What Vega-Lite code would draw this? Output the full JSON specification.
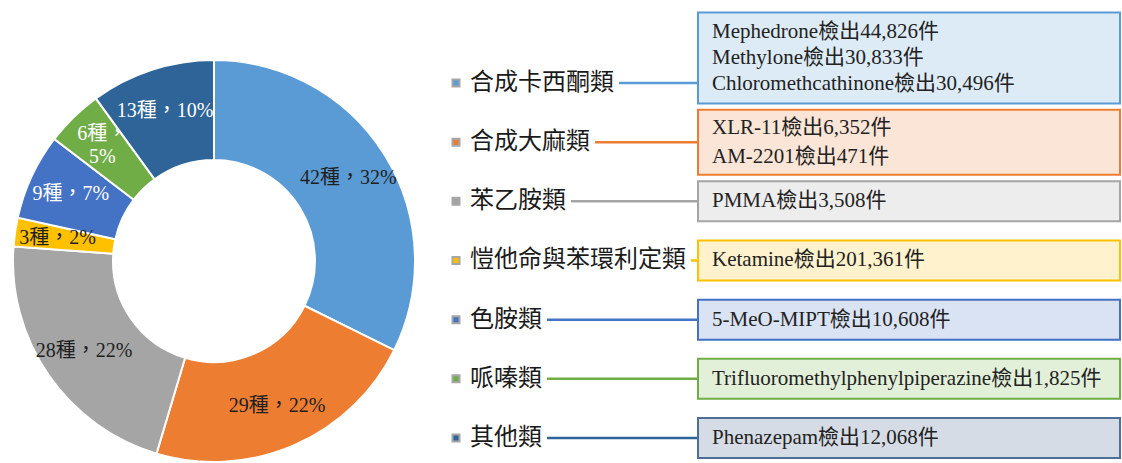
{
  "$schema": "https://vega.github.io/schema/vega-lite/v6.json",
  "padding": 0,
  "background": "white",
  "spacing": 0,
  "config": {"view": {"stroke": null}},
  "data": {"values": [
    {"ord": 1, "cat": "合成卡西酮類", "species": 42, "label": "42種，32%", "detail": "Mephedrone檢出44,826件\nMethylone檢出30,833件\nChloromethcathinone檢出30,496件", "lines": 3},
    {"ord": 2, "cat": "合成大麻類", "species": 29, "label": "29種，22%", "detail": "XLR-11檢出6,352件\nAM-2201檢出471件", "lines": 2},
    {"ord": 3, "cat": "苯乙胺類", "species": 28, "label": "28種，22%", "detail": "PMMA檢出3,508件", "lines": 1},
    {"ord": 4, "cat": "愷他命與苯環利定類", "species": 3, "label": "3種，2%", "detail": "Ketamine檢出201,361件", "lines": 1},
    {"ord": 5, "cat": "色胺類", "species": 9, "label": "9種，7%", "detail": "5-MeO-MIPT檢出10,608件", "lines": 1},
    {"ord": 6, "cat": "哌嗪類", "species": 6, "label": "6種，\n5%", "detail": "Trifluoromethylphenylpiperazine檢出1,825件", "lines": 1},
    {"ord": 7, "cat": "其他類", "species": 13, "label": "13種，10%", "detail": "Phenazepam檢出12,068件", "lines": 1}
  ]},
  "hconcat": [
    {
      "width": 428,
      "height": 463,
      "layer": [
        {
          "mark": {"type": "arc", "innerRadius": 101, "outerRadius": 201, "stroke": "white", "strokeWidth": 2, "yOffset": 29.5},
          "encoding": {
            "theta": {"field": "species", "type": "quantitative", "stack": true},
            "order": {"field": "ord", "type": "quantitative"},
            "color": {"field": "cat", "type": "nominal", "legend": null,
              "scale": {"domain": ["合成卡西酮類", "合成大麻類", "苯乙胺類", "愷他命與苯環利定類", "色胺類", "哌嗪類", "其他類"],
                        "range": ["#5B9BD5", "#ED7D31", "#A5A5A5", "#FFC000", "#4472C4", "#70AD47", "#2E6497"]}}
          }
        },
        {
          "transform": [
            {"stack": "species", "groupby": [], "sort": [{"field": "ord", "order": "ascending"}], "as": ["s0", "s1"]},
            {"calculate": "(datum.s0 + datum.s1) / 2", "as": "mid"}
          ],
          "encoding": {
            "theta": {"field": "mid", "type": "quantitative", "stack": null},
            "text": {"field": "label", "type": "nominal"},
            "color": {"condition": {"test": "datum.ord >= 5", "value": "#ffffff"}, "value": "#1f1f1f"}
          },
          "layer": [
            {
              "transform": [{"filter": "datum.ord != 6"}],
              "mark": {"type": "text", "radius": 158, "yOffset": 29.5, "fontSize": 20, "font": "Liberation Serif, Noto Sans CJK TC"}
            },
            {
              "transform": [{"filter": "datum.ord == 6"}],
              "mark": {"type": "text", "radius": 160, "yOffset": 17, "fontSize": 20, "font": "Liberation Serif, Noto Sans CJK TC", "lineBreak": "\n", "lineHeight": 23}
            }
          ]
        }
      ]
    },
    {
      "width": 694,
      "height": 463,
      "transform": [{"calculate": "42 + length(datum.cat) * 24 + 5", "as": "connStart"}],
      "encoding": {
        "y": {"field": "cat", "type": "nominal", "axis": null,
          "scale": {"type": "band", "domain": ["合成卡西酮類", "合成大麻類", "苯乙胺類", "愷他命與苯環利定類", "色胺類", "哌嗪類", "其他類"],
                    "paddingInner": 0.155, "paddingOuter": 0.49, "align": 1}}
      },
      "layer": [
        {
          "mark": {"type": "rule", "strokeWidth": 2.5},
          "encoding": {
            "x": {"field": "connStart", "type": "quantitative", "axis": null, "scale": {"domain": [0, 694], "nice": false, "zero": false}},
            "x2": {"datum": 270},
            "color": {"field": "cat", "type": "nominal", "legend": null,
              "scale": {"domain": ["合成卡西酮類", "合成大麻類", "苯乙胺類", "愷他命與苯環利定類", "色胺類", "哌嗪類", "其他類"],
                        "range": ["#5B9BD5", "#ED7D31", "#A5A5A5", "#FFC000", "#4472C4", "#70AD47", "#2E6497"]}}
          }
        },
        {
          "transform": [{"filter": "datum.lines == 3"}],
          "mark": {"type": "bar", "height": 91, "yOffset": -25, "strokeWidth": 2},
          "encoding": {
            "x": {"datum": 270, "type": "quantitative"},
            "x2": {"datum": 692},
            "fill": {"field": "cat", "type": "nominal", "legend": null,
              "scale": {"domain": ["合成卡西酮類", "合成大麻類", "苯乙胺類", "愷他命與苯環利定類", "色胺類", "哌嗪類", "其他類"],
                        "range": ["#DDEBF7", "#FBE5D6", "#EDEDED", "#FFF2CC", "#DAE3F3", "#E2F0D9", "#D6DCE5"]}},
            "stroke": {"field": "cat", "type": "nominal", "legend": null,
              "scale": {"domain": ["合成卡西酮類", "合成大麻類", "苯乙胺類", "愷他命與苯環利定類", "色胺類", "哌嗪類", "其他類"],
                        "range": ["#5B9BD5", "#ED7D31", "#A5A5A5", "#FFC000", "#4472C4", "#70AD47", "#4F6E95"]}}
          }
        },
        {
          "transform": [{"filter": "datum.lines == 2"}],
          "mark": {"type": "bar", "height": 65, "strokeWidth": 2},
          "encoding": {
            "x": {"datum": 270, "type": "quantitative"},
            "x2": {"datum": 692},
            "fill": {"field": "cat", "type": "nominal", "legend": null},
            "stroke": {"field": "cat", "type": "nominal", "legend": null}
          }
        },
        {
          "transform": [{"filter": "datum.lines == 1"}],
          "mark": {"type": "bar", "height": 40, "strokeWidth": 2},
          "encoding": {
            "x": {"datum": 270, "type": "quantitative"},
            "x2": {"datum": 692},
            "fill": {"field": "cat", "type": "nominal", "legend": null},
            "stroke": {"field": "cat", "type": "nominal", "legend": null}
          }
        },
        {
          "mark": {"type": "point", "shape": "square", "filled": true, "size": 49, "stroke": "#a6a6a6", "strokeWidth": 2, "opacity": 1},
          "encoding": {
            "x": {"datum": 28, "type": "quantitative"},
            "color": {"field": "cat", "type": "nominal", "legend": null}
          }
        },
        {
          "mark": {"type": "text", "align": "left", "baseline": "middle", "fontSize": 24, "font": "Noto Sans CJK TC", "color": "#1a1a1a"},
          "encoding": {
            "x": {"datum": 42, "type": "quantitative"},
            "text": {"field": "cat", "type": "nominal"}
          }
        },
        {
          "transform": [{"filter": "datum.lines == 3"}],
          "mark": {"type": "text", "align": "left", "baseline": "middle", "fontSize": 21, "font": "Liberation Serif, Noto Sans CJK TC", "color": "#222222", "lineBreak": "\n", "lineHeight": 26, "yOffset": -51},
          "encoding": {
            "x": {"datum": 284, "type": "quantitative"},
            "text": {"field": "detail", "type": "nominal"}
          }
        },
        {
          "transform": [{"filter": "datum.lines == 2"}],
          "mark": {"type": "text", "align": "left", "baseline": "middle", "fontSize": 21, "font": "Liberation Serif, Noto Sans CJK TC", "color": "#222222", "lineBreak": "\n", "lineHeight": 29, "yOffset": -14.5},
          "encoding": {
            "x": {"datum": 284, "type": "quantitative"},
            "text": {"field": "detail", "type": "nominal"}
          }
        },
        {
          "transform": [{"filter": "datum.lines == 1"}],
          "mark": {"type": "text", "align": "left", "baseline": "middle", "fontSize": 21, "font": "Liberation Serif, Noto Sans CJK TC", "color": "#222222"},
          "encoding": {
            "x": {"datum": 284, "type": "quantitative"},
            "text": {"field": "detail", "type": "nominal"}
          }
        }
      ]
    }
  ]
}
